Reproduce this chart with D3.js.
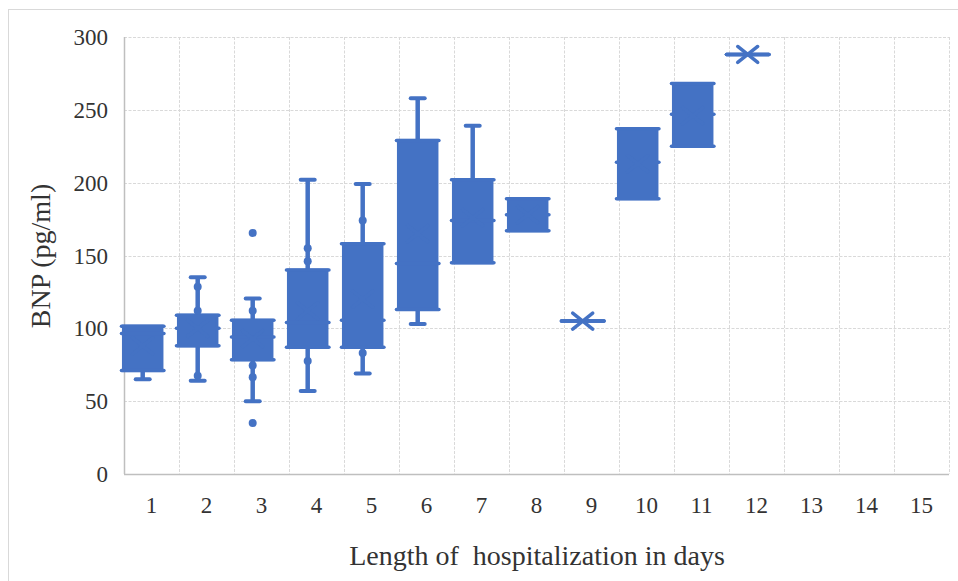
<!DOCTYPE html>
<html>
<head>
<meta charset="utf-8">
<script src="https://cdn.jsdelivr.net/npm/d3@7"></script>
<style>
  body { margin: 0; background: #fff; }
  text { font-family: "Liberation Serif", "Times New Roman", serif; fill: #333; }
</style>
</head>
<body>
<div id="chart"></div>
<script>
// Length of stay (days) on the x axis, BNP values
var days = [1, 2, 3, 4, 5, 6, 7, 8, 9, 10, 11, 12, 13, 14, 15]
var yTicks = [0, 50, 100, 150, 200, 250, 300]

// one entry per day that has data (days 1..12)
var whiskerLow = [65, 64, 50, 57, 69, 103, 145, 167, 105, 189, 225, 288]
var q1 = [71, 88, 78.5, 87, 87, 113, 145, 167, 105, 189, 225, 288]
var median = [96.5, 100, 94, 104, 105.5, 144.5, 174, 178, 105, 214, 247, 288]
var q3 = [101.5, 109, 105.5, 140, 158, 229, 202, 189, 105, 237, 268, 288]
var whiskerHigh = [101.5, 135, 120.5, 202, 199, 258, 239, 189, 105, 237, 268, 288]
var means = [88, 100, 93, 112, 120, 165, 176, 178, 105, 213, 246, 288]
var innerPoints = [[], [128.5, 112, 67.5], [112, 74.5, 66.5], [155, 146, 77.5], [174, 83], [], [], [], [], [], [], []]
var outliers = [[], [], [165.5, 35], [], [], [], [], [], [], [], [], []]

var width = 958
var height = 581
var margin = {top: 37, right: 9, bottom: 107, left: 124}
var blue = '#4472C4'
var grid = '#d9d9d9'

var svg = d3.select('#chart').append('svg')
  .attr('width', width)
  .attr('height', height)

// chart area border (runs off the right and bottom of the picture)
svg.append('rect')
  .attr('x', 8.5)
  .attr('y', 9.5)
  .attr('width', width)
  .attr('height', height)
  .attr('fill', 'none')
  .attr('stroke', grid)

var x = d3.scaleBand()
  .domain(days)
  .range([margin.left, width - margin.right])
  .padding(0)

var y = d3.scaleLinear()
  .domain([0, 300])
  .range([height - margin.bottom, margin.top])

var g = svg.append('g')

// horizontal gridlines
g.selectAll('.hgrid')
  .data(yTicks.slice(1))
  .enter().append('line')
  .attr('class', 'hgrid')
  .attr('x1', margin.left)
  .attr('x2', width - margin.right)
  .attr('y1', function (d) { return Math.round(y(d)) + 0.5 })
  .attr('y2', function (d) { return Math.round(y(d)) + 0.5 })
  .attr('stroke', grid)
  .attr('stroke-dasharray', '3,1.5')

// vertical gridlines between categories
g.selectAll('.vgrid')
  .data(days)
  .enter().append('line')
  .attr('class', 'vgrid')
  .attr('x1', function (d) { return Math.round(x(d) + x.bandwidth()) + 0.5 })
  .attr('x2', function (d) { return Math.round(x(d) + x.bandwidth()) + 0.5 })
  .attr('y1', y(300))
  .attr('y2', y(0))
  .attr('stroke', grid)
  .attr('stroke-dasharray', '3,1.5')

// axis lines
g.append('line')
  .attr('x1', margin.left + 0.5).attr('x2', margin.left + 0.5)
  .attr('y1', y(300)).attr('y2', y(0))
  .attr('stroke', '#bfbfbf').attr('stroke-width', 1.5)
g.append('line')
  .attr('x1', margin.left).attr('x2', width - margin.right)
  .attr('y1', Math.round(y(0)) + 0.5).attr('y2', Math.round(y(0)) + 0.5)
  .attr('stroke', '#bfbfbf').attr('stroke-width', 1.5)

var yAxis = svg.append('g')
  .attr('transform', 'translate(' + margin.left + ',0)')
  .call(d3.axisLeft(y).tickValues(yTicks).tickSize(0).tickPadding(16))
yAxis.select('.domain').remove()
yAxis.selectAll('text').style('font-size', '23px').attr('dy', '0.33em')

var xAxis = svg.append('g')
  .attr('transform', 'translate(0,' + y(0) + ')')
  .call(d3.axisBottom(x).tickSize(0))
xAxis.select('.domain').remove()
xAxis.selectAll('text').style('font-size', '23px').attr('y', 39).attr('dy', 0)

// axis titles
svg.append('text')
  .attr('x', 537)
  .attr('y', 565)
  .attr('text-anchor', 'middle')
  .style('font-size', '28px')
  .style('white-space', 'pre')
  .attr('xml:space', 'preserve')
  .text('Length of  hospitalization in days')

svg.append('text')
  .attr('transform', 'translate(40,256) rotate(-90)')
  .attr('text-anchor', 'middle')
  .attr('dy', '0.35em')
  .style('font-size', '28px')
  .text('BNP (pg/ml)')

// box plot data
var boxes = q1.map(function (v, i) {
  return {
    day: days[i],
    low: whiskerLow[i],
    q1: v,
    median: median[i],
    q3: q3[i],
    high: whiskerHigh[i],
    mean: means[i],
    inner: innerPoints[i],
    outliers: outliers[i]
  }
})

var bw = x.bandwidth()
var boxWidth = bw * 0.7
var boxShift = -bw * 0.16 // the boxes sit a little left of the category centre
var capHalf = 7

var box = g.selectAll('.box')
  .data(boxes)
  .enter().append('g')
  .attr('class', 'box')
  .attr('transform', function (d) {
    return 'translate(' + (x(d.day) + bw / 2 + boxShift) + ',0)'
  })

// whiskers
box.filter(function (d) { return d.high > d.q3 }).each(function (d) {
  var s = d3.select(this)
  s.append('line')
    .attr('x1', 0).attr('x2', 0)
    .attr('y1', y(d.q3)).attr('y2', y(d.high))
    .attr('stroke', blue).attr('stroke-width', 4.5)
  s.append('line')
    .attr('x1', -capHalf).attr('x2', capHalf)
    .attr('y1', y(d.high)).attr('y2', y(d.high))
    .attr('stroke', blue).attr('stroke-width', 4).attr('stroke-linecap', 'round')
})
box.filter(function (d) { return d.low < d.q1 }).each(function (d) {
  var s = d3.select(this)
  s.append('line')
    .attr('x1', 0).attr('x2', 0)
    .attr('y1', y(d.q1)).attr('y2', y(d.low))
    .attr('stroke', blue).attr('stroke-width', 4.5)
  s.append('line')
    .attr('x1', -capHalf).attr('x2', capHalf)
    .attr('y1', y(d.low)).attr('y2', y(d.low))
    .attr('stroke', blue).attr('stroke-width', 4).attr('stroke-linecap', 'round')
})

// boxes
box.append('rect')
  .attr('x', -boxWidth / 2)
  .attr('width', boxWidth)
  .attr('y', function (d) { return y(d.q3) })
  .attr('height', function (d) { return y(d.q1) - y(d.q3) })
  .attr('fill', blue)
  .attr('stroke', blue)
  .attr('stroke-width', 3)

// quartile and median lines, they poke out past the box edges a little
box.selectAll('.qline')
  .data(function (d) { return [d.q1, d.median, d.q3] })
  .enter().append('line')
  .attr('class', 'qline')
  .attr('x1', -boxWidth / 2 - 2)
  .attr('x2', boxWidth / 2 + 2)
  .attr('y1', function (v) { return y(v) })
  .attr('y2', function (v) { return y(v) })
  .attr('stroke', blue)
  .attr('stroke-width', 3.5)
  .attr('stroke-linecap', 'round')

// inner points and outliers
box.selectAll('.pt')
  .data(function (d) { return d.inner.concat(d.outliers) })
  .enter().append('circle')
  .attr('class', 'pt')
  .attr('cy', function (v) { return y(v) })
  .attr('r', 4)
  .attr('fill', blue)

// mean markers
box.append('path')
  .attr('transform', function (d) { return 'translate(0,' + y(d.mean) + ')' })
  .attr('d', 'M-10,-8L10,8M-10,8L10,-8')
  .attr('stroke', blue)
  .attr('stroke-width', 3.5)
  .attr('stroke-linecap', 'round')
  .attr('fill', 'none')
</script>
</body>
</html>
